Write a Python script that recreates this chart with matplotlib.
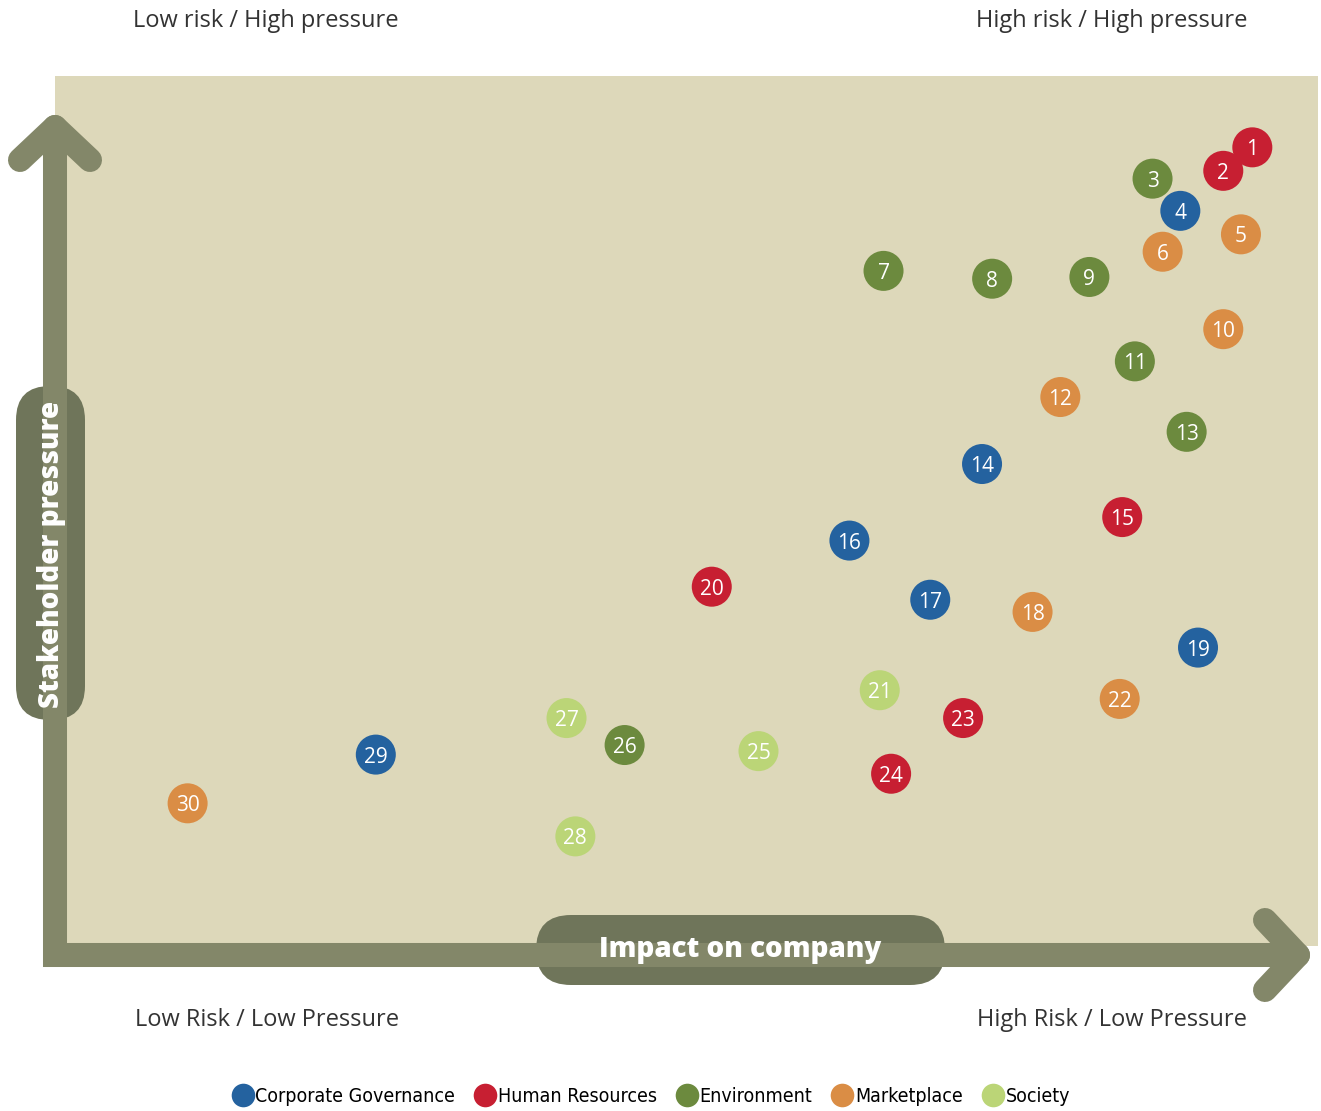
import matplotlib.pyplot as plt
from matplotlib.patches import FancyBboxPatch
from matplotlib.lines import Line2D

# issue data: impact on company (x) vs stakeholder pressure (y), both 0-100
ids = list(range(1, 31))
impact = [94.8, 92.5, 86.9, 89.1, 93.9, 87.7, 65.6, 74.2, 81.9, 92.5,
          85.5, 79.6, 89.6, 73.4, 84.5, 62.9, 69.3, 77.4, 90.5, 52.0,
          65.3, 84.3, 71.9, 66.2, 55.7, 45.1, 40.5, 41.2, 25.4, 10.5]
pressure = [91.8, 89.1, 88.2, 84.5, 81.8, 79.8, 77.6, 76.7, 76.9, 70.9,
            67.2, 63.1, 59.1, 55.4, 49.3, 46.6, 39.8, 38.4, 34.3, 41.3,
            29.4, 28.4, 26.2, 19.8, 22.4, 23.1, 26.2, 12.6, 22.0, 16.4]
groups = ['HR', 'HR', 'ENV', 'CG', 'MP', 'MP', 'ENV', 'ENV', 'ENV', 'MP',
          'ENV', 'MP', 'ENV', 'CG', 'HR', 'CG', 'CG', 'MP', 'CG', 'HR',
          'SOC', 'MP', 'HR', 'HR', 'SOC', 'ENV', 'SOC', 'SOC', 'CG', 'MP']

group_keys = ['CG', 'HR', 'ENV', 'MP', 'SOC']
group_names = ['Corporate Governance', 'Human Resources', 'Environment',
               'Marketplace', 'Society']
group_colors = {'CG': '#24629f', 'HR': '#c71f32', 'ENV': '#6c8a3e',
                'MP': '#da8d45', 'SOC': '#bbd577'}

W, H = 1321, 1111
bg = '#ddd8ba'
arrow_col = '#838769'
box_col = '#6f755a'
font = 'Open Sans'

fig = plt.figure(figsize=(W / 100, H / 100), dpi=100)

# main plotting area (beige square)
ax = fig.add_axes([55 / W, (H - 946) / H, 1263 / W, 870 / H])
ax.set_facecolor(bg)
ax.set_xlim(0, 100)
ax.set_ylim(0, 100)
ax.set_xticks([])
ax.set_yticks([])
for s in ax.spines.values():
    s.set_visible(False)

cols = [group_colors[g] for g in groups]
ax.scatter(impact, pressure, s=830, c=cols, linewidths=0, zorder=3)
for i, x, y in zip(ids, impact, pressure):
    ax.text(x, y, str(i), color='white', fontsize=15, family=font,
            ha='center', va='center_baseline', zorder=4)

# overlay in pixel coordinates for arrows, label boxes and corner notes
ov = fig.add_axes([0, 0, 1, 1], zorder=5)
ov.set_xlim(0, W)
ov.set_ylim(H, 0)
ov.axis('off')
ov.patch.set_alpha(0)

lw = 17.3
ov.plot([55, 55, 1298], [127, 955, 955], color=arrow_col, lw=lw,
        solid_capstyle='round', solid_joinstyle='miter')
ov.plot([20, 55, 90], [160, 127, 160], color=arrow_col, lw=lw,
        solid_capstyle='round', solid_joinstyle='round')
ov.plot([1265, 1298, 1265], [920, 955, 990], color=arrow_col, lw=lw,
        solid_capstyle='round', solid_joinstyle='round')

ybox = FancyBboxPatch((16 + 34, 386 + 34), 69 - 68, 334 - 68,
                      boxstyle='round,pad=34', fc=box_col, ec='none')
ov.add_patch(ybox)
ov.text(51, 554, 'Stakeholder pressure', rotation=90, color='white',
        fontsize=20, fontweight='heavy', family=font, ha='center', va='center')

xbox = FancyBboxPatch((536 + 35, 915 + 35), 409 - 70, 70 - 70,
                      boxstyle='round,pad=35', fc=box_col, ec='none')
ov.add_patch(xbox)
ov.text(740, 950, 'Impact on company', color='white', fontsize=20,
        fontweight='heavy', family=font, ha='center', va='center')

ov.text(133, 21, 'Low risk / High pressure', fontsize=17, family=font,
        color='#333333', ha='left', va='center')
ov.text(1248, 21, 'High risk / High pressure', fontsize=17, family=font,
        color='#333333', ha='right', va='center')
ov.text(135, 1020, 'Low Risk / Low Pressure', fontsize=17, family=font,
        color='#333333', ha='left', va='center')
ov.text(1247, 1020, 'High Risk / Low Pressure', fontsize=17, family=font,
        color='#333333', ha='right', va='center')

handles = [Line2D([], [], ls='none', marker='o', markersize=17,
                  markerfacecolor=group_colors[k], markeredgewidth=0)
           for k in group_keys]
fig.legend(handles, group_names, loc='center', ncol=5, frameon=False,
           bbox_to_anchor=(651 / W, 1 - 1096 / H), handletextpad=0.1,
           columnspacing=1.0, handlelength=1.1,
           prop={'family': 'DejaVu Sans', 'stretch': 'condensed', 'size': 14})

fig.savefig('out.png', dpi=100)
